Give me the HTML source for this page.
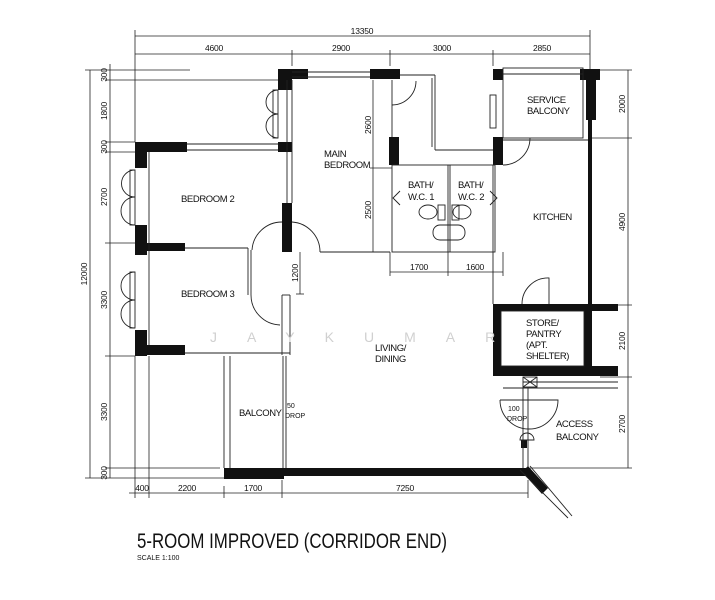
<!DOCTYPE html>
<html><head><meta charset="utf-8"><style>
html,body{margin:0;padding:0;background:#fff;width:715px;height:600px;overflow:hidden}
text{font-family:"Liberation Sans",sans-serif;fill:#111}
</style></head><body>
<svg width="715" height="600" viewBox="0 0 715 600" xmlns="http://www.w3.org/2000/svg">
<g stroke="#222" stroke-width="0.8" fill="none">
<line x1="135" y1="36" x2="590" y2="36"/>
<line x1="135" y1="54" x2="590" y2="54"/>
<line x1="135" y1="30" x2="135" y2="142"/>
<line x1="590" y1="30" x2="590" y2="70"/>
<line x1="292" y1="50" x2="292" y2="66"/><line x1="390" y1="50" x2="390" y2="66"/><line x1="493" y1="50" x2="493" y2="66"/>
<line x1="90" y1="70" x2="90" y2="478"/>
<line x1="110" y1="64" x2="110" y2="478"/>
<line x1="85" y1="70" x2="190" y2="70"/><line x1="105" y1="80" x2="278" y2="80"/>
<line x1="105" y1="142" x2="135" y2="142"/><line x1="105" y1="152" x2="135" y2="152"/>
<line x1="105" y1="243" x2="135" y2="243"/><line x1="105" y1="356" x2="135" y2="356"/>
<line x1="105" y1="468" x2="220" y2="468"/><line x1="85" y1="478" x2="224" y2="478"/>
<line x1="135" y1="356" x2="135" y2="498"/><line x1="149" y1="356" x2="149" y2="498"/>
<line x1="129" y1="493" x2="528" y2="493"/>
<line x1="224" y1="486" x2="224" y2="498"/><line x1="282" y1="480" x2="282" y2="498"/><line x1="528" y1="480" x2="528" y2="498"/>
<line x1="628" y1="70" x2="628" y2="468"/>
<line x1="600" y1="70" x2="632" y2="70"/><line x1="592" y1="138" x2="632" y2="138"/>
<line x1="600" y1="305" x2="632" y2="305"/><line x1="600" y1="377" x2="632" y2="377"/><line x1="530" y1="468" x2="632" y2="468"/>
<line x1="373" y1="80" x2="373" y2="252"/><line x1="370" y1="168" x2="392" y2="168"/>
<line x1="390" y1="272" x2="503" y2="272"/><line x1="390" y1="252" x2="390" y2="276"/><line x1="448" y1="252" x2="448" y2="276"/><line x1="503" y1="252" x2="503" y2="276"/>
<line x1="300" y1="252" x2="300" y2="294"/><line x1="296" y1="294" x2="304" y2="294"/>
</g>
<g fill="#111">
<rect x="278" y="69" width="14" height="21"/><rect x="278" y="69" width="30" height="10"/><rect x="370" y="69" width="30" height="10"/>
<rect x="135" y="142" width="52" height="10"/><rect x="278" y="142" width="14" height="10"/>
<rect x="135" y="142" width="12" height="26"/><rect x="135" y="225" width="12" height="30"/><rect x="135" y="243" width="50" height="8"/>
<rect x="135" y="330" width="12" height="26"/><rect x="135" y="345" width="50" height="10"/>
<rect x="282" y="203" width="10" height="49"/>
<rect x="389" y="137" width="10" height="28"/><rect x="493" y="69" width="10" height="11"/><rect x="493" y="137" width="10" height="28"/>
<rect x="580" y="69" width="20" height="11"/><rect x="586" y="80" width="10" height="40"/>
<rect x="588" y="120" width="4" height="185"/>
<rect x="493" y="304" width="125" height="7"/><rect x="493" y="366" width="125" height="10"/>
<rect x="493" y="304" width="8" height="72"/><rect x="584" y="304" width="8" height="72"/>
<rect x="224" y="468" width="304" height="8"/><rect x="224" y="476" width="60" height="3"/>
<rect x="521" y="440" width="6" height="8"/>
<polygon points="528,466 548,488 542,494 522,472"/>
</g>
<g stroke="#222" stroke-width="0.9" fill="none">
<line x1="292" y1="72" x2="370" y2="72"/><line x1="292" y1="77" x2="370" y2="77"/>
<line x1="187" y1="144" x2="278" y2="144"/><line x1="187" y1="150" x2="278" y2="150"/>
<line x1="287" y1="80" x2="287" y2="203"/><line x1="292" y1="80" x2="292" y2="203"/>
<line x1="149" y1="152" x2="149" y2="345"/>
<line x1="185" y1="248" x2="248" y2="248"/><line x1="248" y1="248" x2="248" y2="295"/><line x1="251" y1="250" x2="251" y2="295"/>
<line x1="282" y1="295" x2="282" y2="355"/><line x1="290" y1="295" x2="290" y2="355"/><line x1="282" y1="295" x2="290" y2="295"/>
<line x1="185" y1="353" x2="290" y2="353"/>
<line x1="224" y1="356" x2="224" y2="468"/><line x1="230" y1="356" x2="230" y2="468"/>
<line x1="283" y1="356" x2="283" y2="468"/><line x1="286" y1="356" x2="286" y2="468"/>
<line x1="320" y1="252" x2="390" y2="252"/>
<line x1="392" y1="80" x2="392" y2="137"/><line x1="400" y1="75" x2="435" y2="75"/><line x1="435" y1="75" x2="435" y2="150"/><line x1="432" y1="78" x2="432" y2="147"/><line x1="435" y1="150" x2="493" y2="150"/>
<rect x="392" y="165" width="103" height="87"/><line x1="448" y1="165" x2="448" y2="252"/><line x1="450" y1="165" x2="450" y2="252"/>
<rect x="503" y="68" width="80" height="70"/><line x1="503" y1="74" x2="583" y2="74"/>
<rect x="490" y="95" width="6" height="33"/>
<line x1="503" y1="140" x2="588" y2="140"/>
<line x1="493" y1="165" x2="493" y2="304"/>
<rect x="501" y="311" width="83" height="55"/>
<line x1="503" y1="388" x2="618" y2="388"/><line x1="523" y1="382" x2="618" y2="382"/>
<rect x="523" y="377" width="14" height="10"/><line x1="523" y1="377" x2="537" y2="387"/><line x1="537" y1="377" x2="523" y2="387"/>
<line x1="523" y1="388" x2="523" y2="468"/><line x1="528" y1="388" x2="528" y2="468"/>
<line x1="520" y1="470" x2="568" y2="518"/><line x1="530" y1="466" x2="572" y2="516"/>
<path d="M278 90 A12 12 0 0 0 278 114"/><path d="M278 114 A12 12 0 0 0 278 138"/><rect x="273" y="90" width="5" height="48"/>
<path d="M135 170 A12 12 0 0 0 135 197"/><path d="M135 197 A12 12 0 0 0 135 225"/><rect x="130" y="170" width="5" height="55"/>
<path d="M135 272 A12 12 0 0 0 135 300"/><path d="M135 300 A12 12 0 0 0 135 328"/><rect x="130" y="272" width="5" height="56"/>
<path d="M252 250 A30 30 0 0 1 282 222"/><path d="M292 222 A30 30 0 0 1 320 252"/>
<path d="M251 295 A30 30 0 0 0 280 325"/>
<path d="M392 105 A24 24 0 0 0 416 81"/>
<path d="M503 165 A27 27 0 0 0 530 138"/>
<path d="M522 304 A26 26 0 0 1 549 278 L549 304"/>
<path d="M500 400 L558 400 A29 29 0 0 1 500 400"/>
<path d="M520 440 A7 7 0 0 1 534 440 Z"/>
<path d="M400 205 L393 198 L400 191"/><path d="M490 205 L497 198 L490 191"/>
<ellipse cx="428" cy="212" rx="9" ry="7"/><ellipse cx="462" cy="212" rx="9" ry="7"/>
<rect x="438" y="205" width="7" height="15"/><rect x="452" y="205" width="7" height="15"/>
<rect x="433" y="225" width="32" height="15" rx="7"/>
</g>
<g font-size="8.5" text-anchor="middle" letter-spacing="-0.2">
<text x="362" y="34">13350</text>
<text x="214" y="51">4600</text><text x="341" y="51">2900</text><text x="442" y="51">3000</text><text x="542" y="51">2850</text>
<text x="142" y="491">400</text><text x="187" y="491">2200</text><text x="253" y="491">1700</text><text x="405" y="491">7250</text>
<text x="419" y="270">1700</text><text x="475" y="270">1600</text>
</g>
<g font-size="8.5" text-anchor="middle" letter-spacing="-0.2">
<text transform="translate(107,75) rotate(-90)">300</text>
<text transform="translate(107,111) rotate(-90)">1800</text>
<text transform="translate(107,147) rotate(-90)">300</text>
<text transform="translate(107,197) rotate(-90)">2700</text>
<text transform="translate(107,300) rotate(-90)">3300</text>
<text transform="translate(107,412) rotate(-90)">3300</text>
<text transform="translate(107,473) rotate(-90)">300</text>
<text transform="translate(87,274) rotate(-90)">12000</text>
<text transform="translate(625,104) rotate(-90)">2000</text>
<text transform="translate(625,222) rotate(-90)">4900</text>
<text transform="translate(625,341) rotate(-90)">2100</text>
<text transform="translate(625,424) rotate(-90)">2700</text>
<text transform="translate(371,125) rotate(-90)">2600</text>
<text transform="translate(371,210) rotate(-90)">2500</text>
<text transform="translate(298,273) rotate(-90)">1200</text>
</g>
<g font-size="9.5" letter-spacing="-0.4">
<text x="324" y="157">MAIN</text><text x="324" y="168">BEDROOM</text>
<text x="181" y="202">BEDROOM 2</text><text x="181" y="297">BEDROOM 3</text>
<text x="408" y="188">BATH/</text><text x="408" y="200">W.C. 1</text>
<text x="458" y="188">BATH/</text><text x="458" y="200">W.C. 2</text>
<text x="533" y="220">KITCHEN</text>
<text x="527" y="103">SERVICE</text><text x="527" y="114">BALCONY</text>
<text x="526" y="326">STORE/</text><text x="526" y="337">PANTRY</text><text x="526" y="348">(APT.</text><text x="526" y="359">SHELTER)</text>
<text x="375" y="351">LIVING/</text><text x="375" y="362">DINING</text>
<text x="239" y="416">BALCONY</text>
<text x="556" y="427">ACCESS</text><text x="556" y="440">BALCONY</text>
</g>
<g font-size="7"><text x="287" y="408">50</text><text x="285" y="418">DROP</text><text x="508" y="411">100</text><text x="507" y="421">DROP</text></g>
<text x="210" y="342" font-size="14" style="fill:#d0d0d0" letter-spacing="30">JAYKUMAR</text>
<text x="137" y="548" font-size="21" textLength="310" lengthAdjust="spacingAndGlyphs">5-ROOM IMPROVED (CORRIDOR END)</text>
<text x="137" y="560" font-size="7">SCALE  1:100</text>
</svg>
</body></html>
